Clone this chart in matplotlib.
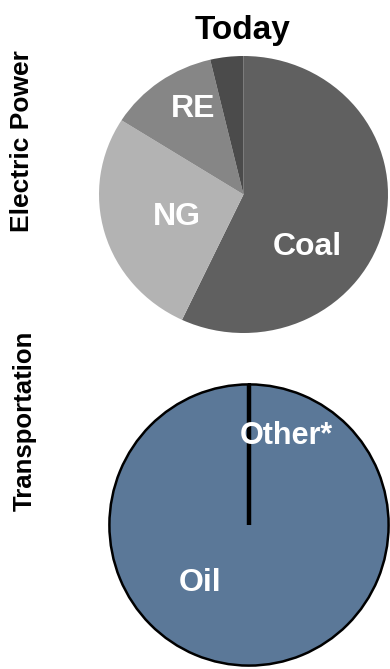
import matplotlib.pyplot as plt

W, H = 390, 669

# Electric power mix today (share, %), clockwise from 12 o'clock
power_labels = ['Coal', 'NG', 'RE', '']
power_shares = [57.0, 27.0, 12.3, 3.7]
power_colors = ['#606060', '#b3b3b3', '#868686', '#4b4b4b']

# Transportation mix today (share, %)
trans_labels = ['Oil', 'Other*']
trans_shares = [99.95, 0.05]

plt.rcParams['font.family'] = ['Liberation Sans', 'DejaVu Sans']

fig = plt.figure(figsize=(W / 100, H / 100), dpi=100)
fig.patch.set_facecolor('white')


def px_axes(cx, cy, rx, ry):
    # axes box around an ellipse given in pixel coordinates (y from top)
    return fig.add_axes([(cx - rx) / W, (H - cy - ry) / H, 2 * rx / W, 2 * ry / H])


# top pie: electric power
ax1 = px_axes(243.5, 194.5, 144.5, 138.5)
ax1.pie(power_shares, colors=power_colors, startangle=90, counterclock=False,
        radius=1, wedgeprops=dict(linewidth=0))
ax1.set_aspect('auto')
ax1.set_xlim(-1, 1)
ax1.set_ylim(-1, 1)
ax1.axis('off')
for lab, (x, y) in zip(power_labels[:3], [(0.44, -0.38), (-0.46, -0.16), (-0.35, 0.62)]):
    ax1.text(x, y, lab, color='white', fontsize=23, fontweight='bold',
             ha='center', va='center')

# bottom pie: transportation, the thin "Other" wedge shows as a black line
ax2 = px_axes(249, 525, 141, 142)
ax2.pie(trans_shares, colors=['#5b7898', '#5b7898'], startangle=90, counterclock=True,
        radius=1, wedgeprops=dict(linewidth=1.8, edgecolor='black'))
ax2.plot([0, 0], [0, 1], color='black', linewidth=3.2, solid_capstyle='butt')
ax2.set_aspect('auto')
ax2.set_xlim(-1.01, 1.01)
ax2.set_ylim(-1.01, 1.01)
ax2.axis('off')
ax2.text(-0.35, -0.41, trans_labels[0], color='white', fontsize=23, fontweight='bold',
         ha='center', va='center')
ax2.text(0.27, 0.63, trans_labels[1], color='white', fontsize=22, fontweight='bold',
         ha='center', va='center')

# titles and row labels
fig.text(243 / W, 1 - 31 / H, 'Today', fontsize=24, fontweight='bold',
         ha='center', va='center')
fig.text(22 / W, 1 - 141 / H, 'Electric Power', fontsize=19, fontweight='bold',
         rotation=90, ha='center', va='center')
fig.text(25 / W, 1 - 421 / H, 'Transportation', fontsize=18.5, fontweight='bold',
         rotation=90, ha='center', va='center')

fig.savefig('out.png', dpi=100)
